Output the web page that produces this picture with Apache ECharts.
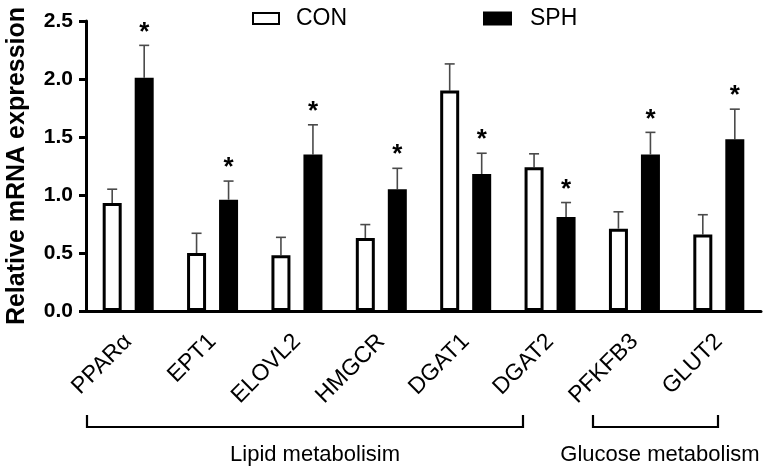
<!DOCTYPE html>
<html>
<head>
<meta charset="utf-8">
<script src="https://cdn.jsdelivr.net/npm/echarts@6/dist/echarts.min.js"></script>
<style>
  html, body { margin: 0; padding: 0; background: #fff; }
  #main { width: 765px; height: 475px; }
</style>
</head>
<body>
<div id="main"></div>
<script>
const genes = ['PPARα', 'EPT1', 'ELOVL2', 'HMGCR', 'DGAT1', 'DGAT2', 'PFKFB3', 'GLUT2']
const conMean = [0.93, 0.50, 0.48, 0.63, 1.90, 1.24, 0.71, 0.66]
const conSd = [0.12, 0.17, 0.155, 0.115, 0.23, 0.115, 0.145, 0.17]
const sphMean = [2.01, 0.96, 1.35, 1.05, 1.18, 0.81, 1.35, 1.48]
const sphSd = [0.28, 0.16, 0.255, 0.18, 0.18, 0.125, 0.19, 0.26]
const sphSig = ['*', '*', '*', '*', '*', '*', '*', '*']
const yTicks = [0, 0.5, 1.0, 1.5, 2.0, 2.5]
const groups = ['Lipid metabolisim', 'Glucose metabolism']

const font = '"Liberation Sans", Arial, Helvetica, sans-serif'
const barW = 19
const barGap = 13
const offset = (barW + barGap) / 2

function errData(mean, sd, sig) {
  return mean.map((m, i) => [i, m, sd[i], sig ? sig[i] : ''])
}

// upper error bar with cap, plus the significance mark above it
function errRender(dx) {
  return function (params, api) {
    const i = api.value(0)
    const m = api.value(1)
    const s = api.value(2)
    const base = api.coord([i, m])
    const top = api.coord([i, m + s])
    const x = base[0] + dx
    const children = [
      { type: 'line', shape: { x1: x, y1: base[1], x2: x, y2: top[1] },
        style: { stroke: '#4a4a4a', lineWidth: 1.6 } },
      { type: 'line', shape: { x1: x - 5, y1: top[1], x2: x + 5, y2: top[1] },
        style: { stroke: '#4a4a4a', lineWidth: 1.6 } }
    ]
    const sig = api.value(3)
    if (sig) {
      children.push({
        type: 'text',
        style: { text: sig, x: x, y: top[1] - 13, align: 'center', verticalAlign: 'middle',
          font: 'bold 26px ' + font, fill: '#000' }
      })
    }
    return { type: 'group', children: children }
  }
}

let chart = echarts.init(document.getElementById('main'))
let option = {
  animation: false,
  grid: { left: 86, right: 4, top: 21, bottom: 164, outerBoundsMode: 'none', containLabel: false },
  legend: [
    { data: ['CON'], left: 252, top: 7, padding: 0, icon: 'rect', itemWidth: 26, itemHeight: 11,
      textStyle: { fontFamily: font, fontSize: 23, color: '#000', padding: [0, 0, 0, 12] } },
    { data: ['SPH'], left: 483, top: 7, padding: 0, icon: 'rect', itemWidth: 27, itemHeight: 12,
      textStyle: { fontFamily: font, fontSize: 23, color: '#000', padding: [0, 0, 0, 14] } }
  ],
  xAxis: {
    type: 'category',
    data: genes,
    axisLine: { lineStyle: { color: '#000', width: 3 } },
    axisTick: { alignWithLabel: true, length: 10, lineStyle: { color: '#000', width: 3 } },
    axisLabel: { rotate: 45, margin: 27, fontFamily: font, fontSize: 23, color: '#000' }
  },
  yAxis: {
    type: 'value',
    min: yTicks[0],
    max: yTicks[yTicks.length - 1],
    interval: 0.5,
    name: 'Relative mRNA expression',
    nameLocation: 'middle',
    nameGap: 56,
    nameTextStyle: { fontFamily: font, fontSize: 25, fontWeight: 'bold', color: '#000' },
    axisLine: { show: true, lineStyle: { color: '#000', width: 3 } },
    axisTick: { show: true, length: 7, lineStyle: { color: '#000', width: 3 } },
    axisLabel: { margin: 13, fontFamily: font, fontSize: 21, fontWeight: 'bold', color: '#000',
      formatter: v => v.toFixed(1) },
    splitLine: { show: false }
  },
  series: [
    { name: 'CON', type: 'bar', data: conMean, barWidth: barW, barGap: (barGap / barW * 100) + '%',
      itemStyle: { color: '#fff', borderColor: '#000', borderWidth: 3 } },
    { name: 'SPH', type: 'bar', data: sphMean, barWidth: barW, barGap: (barGap / barW * 100) + '%',
      itemStyle: { color: '#000', borderColor: '#000', borderWidth: 3 } },
    { type: 'custom', data: errData(conMean, conSd), renderItem: errRender(-offset), z: 1 },
    { type: 'custom', data: errData(sphMean, sphSd, sphSig), renderItem: errRender(offset), z: 1 }
  ],
  graphic: [
    { type: 'polyline', shape: { points: [[87, 415], [87, 427], [523, 427], [523, 415]] },
      style: { stroke: '#000', lineWidth: 2.2, fill: null } },
    { type: 'polyline', shape: { points: [[593, 415], [593, 427], [718, 427], [718, 415]] },
      style: { stroke: '#000', lineWidth: 2.2, fill: null } },
    { type: 'text', x: 315, y: 455, style: { text: groups[0], align: 'center', verticalAlign: 'middle',
      font: '22px ' + font, fill: '#000' } },
    { type: 'text', x: 660, y: 455, style: { text: groups[1], align: 'center', verticalAlign: 'middle',
      font: '22px ' + font, fill: '#000' } }
  ]
}
chart.setOption(option)
</script>
</body>
</html>
